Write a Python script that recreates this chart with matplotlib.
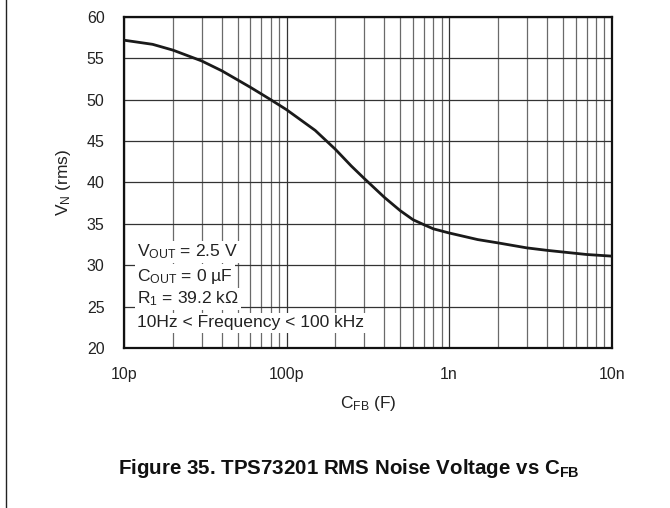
import matplotlib.pyplot as plt
from matplotlib.ticker import FixedLocator, LogLocator, NullFormatter, FixedFormatter
from matplotlib.lines import Line2D

plt.rcParams['font.family'] = ['Liberation Sans', 'DejaVu Sans']
plt.rcParams['mathtext.fontset'] = 'custom'
plt.rcParams['mathtext.rm'] = 'Liberation Sans'
plt.rcParams['mathtext.it'] = 'Liberation Sans:italic'
plt.rcParams['mathtext.bf'] = 'Liberation Sans:bold'

# Feedback capacitance (F) and RMS noise voltage
c_fb = [10e-12, 15e-12, 20e-12, 30e-12, 40e-12, 50e-12, 60e-12, 70e-12, 80e-12,
        100e-12, 150e-12, 200e-12, 250e-12, 300e-12, 400e-12, 500e-12, 600e-12,
        700e-12, 800e-12, 1e-9, 1.5e-9, 2e-9, 3e-9, 4e-9, 5e-9, 7e-9, 10e-9]
v_noise = [57.2, 56.7, 56.0, 54.7, 53.5, 52.4, 51.5, 50.7, 50.0,
           48.8, 46.3, 44.0, 42.0, 40.5, 38.2, 36.6, 35.5,
           34.9, 34.4, 33.9, 33.1, 32.7, 32.1, 31.8, 31.6, 31.3, 31.1]

x_ticks = [10e-12, 100e-12, 1e-9, 10e-9]
x_tick_labels = ['10p', '100p', '1n', '10n']
y_ticks = [20, 25, 30, 35, 40, 45, 50, 55, 60]

conditions = [r'V$_{\mathrm{OUT}}$ = 2.5 V',
              r'C$_{\mathrm{OUT}}$ = 0 µF',
              r'R$_{\mathrm{1}}$ = 39.2 kΩ',
              '10Hz < Frequency < 100 kHz']

fig = plt.figure(figsize=(6.7, 5.08), dpi=100)
ax = fig.add_axes([0.185, 0.315, 0.728, 0.6515])

ax.plot(c_fb, v_noise, color='#1a1a1a', lw=2.0, zorder=3)

ax.set_xscale('log')
ax.set_xlim(10e-12, 10e-9)
ax.set_ylim(20, 60)

ax.xaxis.set_major_locator(FixedLocator(x_ticks))
ax.xaxis.set_major_formatter(FixedFormatter(x_tick_labels))
ax.xaxis.set_minor_locator(LogLocator(base=10, subs=range(2, 10)))
ax.xaxis.set_minor_formatter(NullFormatter())
ax.set_yticks(y_ticks)

ax.grid(True, which='major', axis='both', color='#333333', lw=0.9, zorder=1)
ax.grid(True, which='minor', axis='x', color='#6a6a6a', lw=0.9, zorder=1)

ax.tick_params(which='both', length=0)
ax.tick_params(axis='y', pad=14, labelsize=11.5, colors='#222222')
ax.tick_params(axis='x', pad=14, labelsize=11.5, colors='#222222')

for s in ax.spines.values():
    s.set_linewidth(1.6)
    s.set_color('#111111')

ax.set_xlabel(r'C$_{\mathrm{FB}}$ (F)', fontsize=12.5, color='#222222', labelpad=8)
ax.set_ylabel(r'V$_{\mathrm{N}}$ (rms)', fontsize=12.5, color='#222222', labelpad=10)

# Conditions block, each line on white so the grid is hidden behind it
text_y = [252, 276, 299, 323]
for label, ypix in zip(conditions, text_y):
    ax.text(137 / 670, 1 - ypix / 508, label, transform=fig.transFigure,
            fontsize=12.6, color='#222222', va='center', ha='left', zorder=4,
            bbox=dict(facecolor='white', edgecolor='none', pad=1.5))

fig.text(0.52, 1 - 468 / 508,
         r'Figure 35. TPS73201 RMS Noise Voltage vs C$_{\mathbf{FB}}$',
         fontsize=14.8, fontweight='bold', ha='center', va='center', color='#111111')

fig.add_artist(Line2D([5.5 / 670, 5.5 / 670], [0, 1], transform=fig.transFigure,
                      color='#222222', lw=1.0))

fig.savefig('out.png', dpi=100)
